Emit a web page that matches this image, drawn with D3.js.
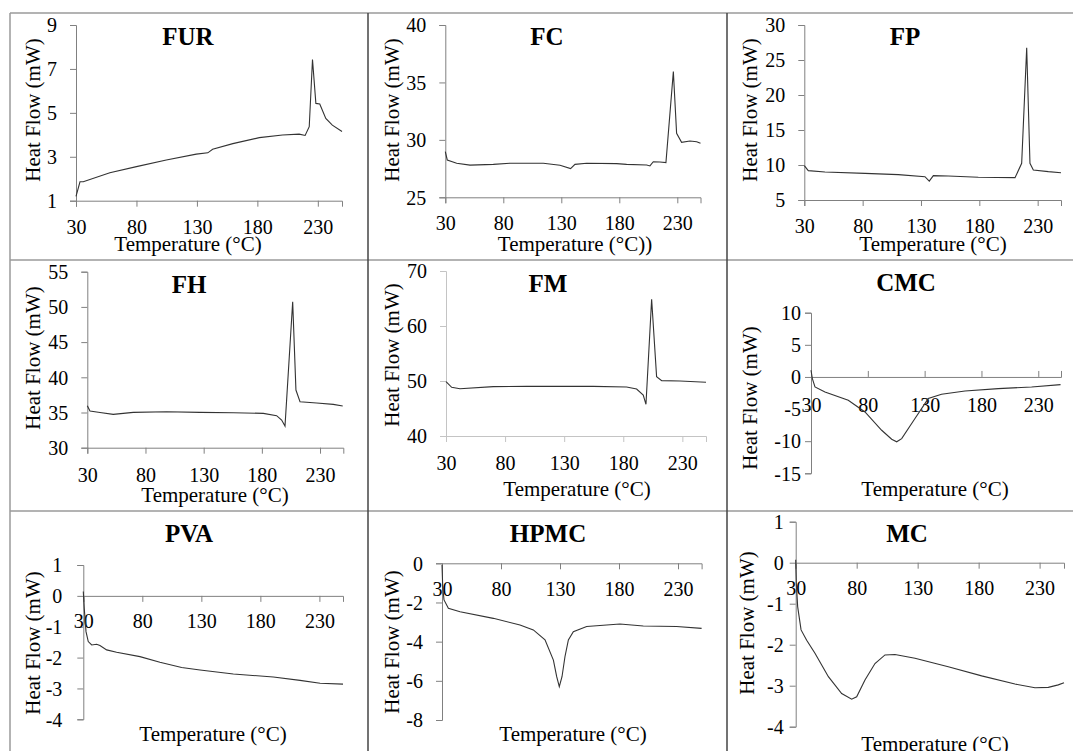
<!DOCTYPE html>
<html>
<head>
<meta charset="utf-8">
<script src="https://cdn.jsdelivr.net/npm/d3@7"></script>
<style>
  body { margin: 0; background: #fff; }
  svg text { font-family: "Liberation Serif", "Times New Roman", serif; fill: #000; }
</style>
</head>
<body>
<svg id="chart" width="1073" height="751"></svg>
<script>
// temperature ticks shared by all panels
const tempTicks = [30, 80, 130, 180, 230];

// [temperature (°C), heat flow (mW)]
const furData = [[30, 1.2], [33.3, 1.86], [36, 1.86], [58, 2.27], [80, 2.55], [104.7, 2.85], [129.5, 3.12],
  [139, 3.18], [143, 3.34], [159.7, 3.6], [181.6, 3.87], [200.8, 3.99], [214.6, 4.03], [219.5, 3.97],
  [222.9, 4.37], [225.6, 7.43], [228.4, 5.43], [231.6, 5.4], [236.6, 4.75], [242, 4.44], [250, 4.15]];
const fcData = [[30, 28.97], [31.7, 28.25], [39.8, 27.96], [51.3, 27.8], [71.4, 27.87], [85.7, 27.96],
  [114.5, 27.96], [128.9, 27.79], [138, 27.5], [141.8, 27.87], [151.8, 27.96], [177.7, 27.93],
  [186.3, 27.87], [203.6, 27.81], [206.4, 27.73], [209.3, 28.1], [215, 28.07], [220.2, 28.02],
  [226.6, 35.94], [229.4, 30.57], [233.7, 29.79], [240.9, 29.9], [246.7, 29.84], [250, 29.7]];
const fpData = [[30, 9.9], [33.4, 9.19], [47.7, 9.0], [82, 8.81], [110.6, 8.62], [133.4, 8.33],
  [137.1, 7.7], [140.6, 8.48], [153.4, 8.43], [179.1, 8.24], [210.6, 8.19], [216.3, 10.24],
  [220.6, 26.76], [223.4, 10.24], [226.3, 9.29], [239.1, 9.05], [250, 8.9]];
const fhData = [[30, 35.97], [32.3, 35.2], [40.9, 35.0], [52.3, 34.73], [69.5, 35.02], [98.2, 35.11],
  [126.8, 35.02], [155.5, 34.97], [181.3, 34.88], [192.7, 34.55], [197, 33.93], [199.9, 33.08],
  [206.5, 50.74], [209.3, 38.19], [212.8, 36.53], [227.1, 36.34], [241.4, 36.15], [249.5, 35.92]];
const fmData = [[30, 49.88], [34.8, 48.85], [41.8, 48.6], [70, 48.97], [98.2, 49.03], [154.6, 49.03],
  [182.8, 48.9], [191.3, 48.55], [196.9, 47.45], [199.2, 45.76], [204, 64.85], [208.2, 50.79],
  [212.5, 50.06], [228, 50.0], [250, 49.76]];
const cmcData = [[30, 1.04], [31.2, -0.26], [33.5, -1.56], [42.3, -2.33], [62.8, -3.63], [77.5, -5.45],
  [92.2, -8.3], [101, -9.7], [105.4, -10.1], [109.8, -9.6], [121.5, -6.48], [133.2, -3.37],
  [144.9, -2.7], [165.5, -2.18], [194.8, -1.82], [224.1, -1.56], [249.6, -1.19]];
const pvaData = [[30, 0.14], [30.8, -0.4], [32.3, -1.16], [34.2, -1.48], [37.1, -1.59], [41.3, -1.57],
  [44.1, -1.61], [49.8, -1.75], [58.2, -1.83], [78, -1.97], [94.9, -2.15], [113.3, -2.32],
  [128.9, -2.4], [157.1, -2.53], [191, -2.63], [213.6, -2.74], [230.6, -2.83], [250, -2.86]];
const hpmcData = [[30, -0.08], [30.6, -1.19], [31.7, -1.87], [35.4, -2.3], [45.3, -2.47], [73.5, -2.81],
  [96.1, -3.15], [107.4, -3.4], [117.3, -3.91], [124.4, -4.94], [127.2, -5.79], [129.4, -6.3],
  [131.7, -5.79], [134.2, -4.77], [137.1, -3.91], [141.3, -3.49], [152.6, -3.23], [180.8, -3.1],
  [200.6, -3.2], [228.8, -3.23], [250, -3.32]];
const mcData = [[30, 0.07], [30.5, -0.5], [31.6, -1.07], [34.4, -1.64], [39, -1.89], [45.8, -2.21],
  [56.8, -2.78], [67.7, -3.19], [75.9, -3.33], [80, -3.27], [86.8, -2.86], [95, -2.46], [103.2, -2.25],
  [111.4, -2.24], [127.8, -2.33], [155.1, -2.54], [182.5, -2.76], [209.8, -2.96], [226.2, -3.05],
  [237.1, -3.04], [245.3, -2.98], [250, -2.93]];

// y ticks per panel
const furTicks = [1, 3, 5, 7, 9];
const fcTicks = [25, 30, 35, 40];
const fpTicks = [5, 10, 15, 20, 25, 30];
const fhTicks = [30, 35, 40, 45, 50, 55];
const fmTicks = [40, 50, 60, 70];
const cmcTicks = [-15, -10, -5, 0, 5, 10];
const pvaTicks = [-4, -3, -2, -1, 0, 1];
const hpmcTicks = [-8, -6, -4, -2, 0];
const mcTicks = [-4, -3, -2, -1, 0, 1];

const panels = [
  { name: "FUR", data: furData, yTicks: furTicks, xLabel: "Temperature (°C)",
    x0: 76, x1: 342, yTop: 25, yBot: 200.7, title: [188, 36], yLab: [33, 110], xLab: [188, 251], yPad: 13, lblOff: 33 },
  { name: "FC", data: fcData, yTicks: fcTicks, xLabel: "Temperature (°C))",
    x0: 445.3, x1: 700.5, yTop: 25, yBot: 197.3, title: [547, 36], yLab: [392, 110], xLab: [575, 251], yPad: 13, lblOff: 33 },
  { name: "FP", data: fpData, yTicks: fpTicks, xLabel: "Temperature (°C)",
    x0: 804.3, x1: 1061, yTop: 25, yBot: 200, title: [905, 36], yLab: [750, 110], xLab: [933, 251], yPad: 13, lblOff: 33 },
  { name: "FH", data: fhData, yTicks: fhTicks, xLabel: "Temperature (°C)",
    x0: 87.3, x1: 343.3, yTop: 271.7, yBot: 447.7, title: [189, 284], yLab: [33, 358], xLab: [215, 502], yPad: 13, lblOff: 34 },
  { name: "FM", data: fmData, yTicks: fmTicks, xLabel: "Temperature (°C)",
    x0: 446, x1: 706, yTop: 271, yBot: 436, title: [548, 283], yLab: [392, 355], xLab: [577, 496], yPad: 13, lblOff: 34, light: true },
  { name: "CMC", data: cmcData, yTicks: cmcTicks, xLabel: "Temperature (°C)",
    x0: 811, x1: 1061, yTop: 312.7, yBot: 473.3, title: [906, 282], yLab: [750, 398], xLab: [935, 496], yPad: 4, lblOff: 35, up: true },
  { name: "PVA", data: pvaData, yTicks: pvaTicks, xLabel: "Temperature (°C)",
    x0: 83.3, x1: 343, yTop: 565, yBot: 719.3, title: [189, 533], yLab: [33, 643], xLab: [213, 741], yPad: 15, lblOff: 32 },
  { name: "HPMC", data: hpmcData, yTicks: hpmcTicks, xLabel: "Temperature (°C)",
    x0: 442, x1: 701.6, yTop: 563.3, yBot: 720, title: [548, 533], yLab: [392, 642], xLab: [573, 741], yPad: 13, lblOff: 33 },
  { name: "MC", data: mcData, yTicks: mcTicks, xLabel: "Temperature (°C)",
    x0: 795.7, x1: 1064, yTop: 521.7, yBot: 726.7, title: [907, 533], yLab: [747, 623], xLab: [935, 751], yPad: 6, lblOff: 32 }
];

const svg = d3.select("#chart");

// table frame
const frame = svg.append("g");
[13, 260, 511].forEach((y) => {
  frame.append("line").attr("x1", 10).attr("x2", 1073).attr("y1", y).attr("y2", y)
    .attr("stroke", "#9a9a9a").attr("stroke-width", 1.5);
});
frame.append("line").attr("x1", 10).attr("x2", 10).attr("y1", 13).attr("y2", 751)
  .attr("stroke", "#9a9a9a").attr("stroke-width", 1.5);
[368, 727].forEach((x) => {
  frame.append("line").attr("x1", x).attr("x2", x).attr("y1", 13).attr("y2", 751)
    .attr("stroke", "#444").attr("stroke-width", 1.5);
});

panels.forEach((p) => {
  const g = svg.append("g");
  const axisColor = p.light ? "#c4c4c4" : "#808080";

  const x = d3.scaleLinear().domain([30, 250]).range([p.x0, p.x1]);
  const yExt = d3.extent(p.yTicks);
  const y = d3.scaleLinear().domain(yExt).range([p.yBot, p.yTop]);
  const xAxisY = yExt[0] < 0 ? y(0) : p.yBot;

  // y axis
  const yAxis = g.append("g")
    .attr("transform", `translate(${p.x0},0)`)
    .call(d3.axisLeft(y).tickValues(p.yTicks).tickSize(6).tickPadding(p.yPad).tickFormat(d3.format("d")));
  yAxis.selectAll("path, line").attr("stroke", axisColor);
  yAxis.selectAll("text").attr("font-size", 20).attr("dy", "0.34em")
    .text((d) => (d < 0 ? "-" + Math.abs(d) : d));

  // x axis
  const xAxis = g.append("g")
    .attr("transform", `translate(0,${xAxisY})`)
    .call(d3.axisBottom(x).tickValues(tempTicks).tickSizeOuter(0).tickSize(p.up ? -6 : 6).tickPadding(0));
  xAxis.select(".domain").attr("stroke", axisColor);
  xAxis.selectAll("line").attr("stroke", axisColor);
  xAxis.selectAll("text").attr("font-size", 20).attr("y", p.lblOff).attr("dy", 0);

  // curve
  const line = d3.line().x((d) => x(d[0])).y((d) => y(d[1]));
  g.append("path").datum(p.data)
    .attr("d", line)
    .attr("fill", "none")
    .attr("stroke", "#333")
    .attr("stroke-width", 1.1);

  // titles
  g.append("text").attr("x", p.title[0]).attr("y", p.title[1]).attr("dy", "0.35em")
    .attr("text-anchor", "middle").attr("font-weight", "bold").attr("font-size", 25).text(p.name);
  g.append("text").attr("transform", `translate(${p.yLab[0]},${p.yLab[1]}) rotate(-90)`)
    .attr("dy", "0.35em").attr("text-anchor", "middle").attr("font-size", 21).text("Heat Flow (mW)");
  g.append("text").attr("x", p.xLab[0]).attr("y", p.xLab[1])
    .attr("text-anchor", "middle").attr("font-size", 21).text(p.xLabel);
});
</script>
</body>
</html>
